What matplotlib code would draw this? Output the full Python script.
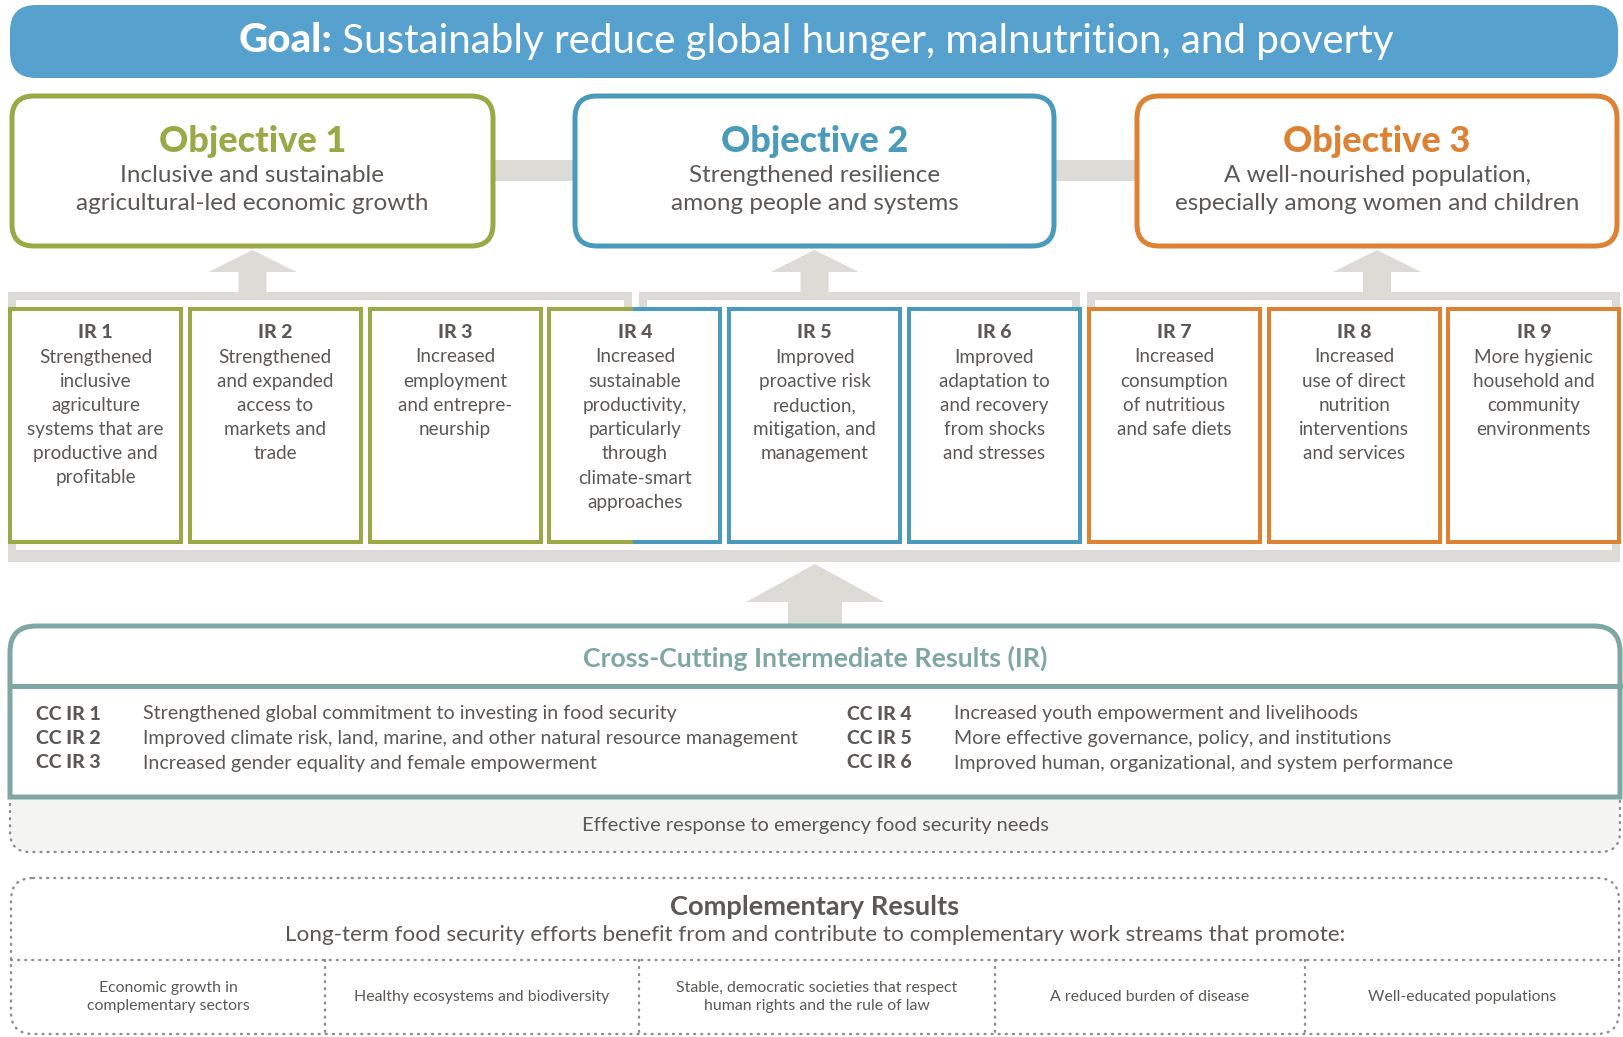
import matplotlib
matplotlib.use("Agg")
import matplotlib.pyplot as plt
from matplotlib.patches import FancyBboxPatch, Rectangle, Polygon, PathPatch
from matplotlib.path import Path

plt.rcParams['font.family'] = ['Lato', 'DejaVu Sans']

# Text content
goal_bold = "Goal:"
goal_text = " Sustainably reduce global hunger, malnutrition, and poverty"

objective_titles = ["Objective 1", "Objective 2", "Objective 3"]
objective_texts = [
    ["Inclusive and sustainable", "agricultural-led economic growth"],
    ["Strengthened resilience", "among people and systems"],
    ["A well-nourished population,", "especially among women and children"],
]

ir_titles = ["IR 1", "IR 2", "IR 3", "IR 4", "IR 5", "IR 6", "IR 7", "IR 8", "IR 9"]
ir_texts = [
    ["Strengthened", "inclusive", "agriculture", "systems that are", "productive and", "profitable"],
    ["Strengthened", "and expanded", "access to", "markets and", "trade"],
    ["Increased", "employment", "and entrepre-", "neurship"],
    ["Increased", "sustainable", "productivity,", "particularly", "through", "climate-smart", "approaches"],
    ["Improved", "proactive risk", "reduction,", "mitigation, and", "management"],
    ["Improved", "adaptation to", "and recovery", "from shocks", "and stresses"],
    ["Increased", "consumption", "of nutritious", "and safe diets"],
    ["Increased", "use of direct", "nutrition", "interventions", "and services"],
    ["More hygienic", "household and", "community", "environments"],
]
# which objective each IR box belongs to (IR 4 is shared by 1 and 2)
ir_groups = [0, 0, 0, (0, 1), 1, 1, 2, 2, 2]

cc_title = "Cross-Cutting Intermediate Results (IR)"
cc_labels = ["CC IR 1", "CC IR 2", "CC IR 3", "CC IR 4", "CC IR 5", "CC IR 6"]
cc_texts = [
    "Strengthened global commitment to investing in food security",
    "Improved climate risk, land, marine, and other natural resource management",
    "Increased gender equality and female empowerment",
    "Increased youth empowerment and livelihoods",
    "More effective governance, policy, and institutions",
    "Improved human, organizational, and system performance",
]
emergency_text = "Effective response to emergency food security needs"

comp_title = "Complementary Results"
comp_sub = "Long-term food security efforts benefit from and contribute to complementary work streams that promote:"
comp_items = [
    "Economic growth in\ncomplementary sectors",
    "Healthy ecosystems and biodiversity",
    "Stable, democratic societies that respect\nhuman rights and the rule of law",
    "A reduced burden of disease",
    "Well-educated populations",
]

# colours
GOAL_BLUE = '#57A1CF'
OBJ_COLORS = ['#9AA946', '#4A9BBB', '#DD8233']
GREY = '#DCDBD5'
TEAL = '#7EA7A4'
TXT = '#5B5855'
LIGHT = '#F4F5F2'
DOTS = '#8C8C8C'

W, H = 1623, 1037
fig = plt.figure(figsize=(W / 100, H / 100), dpi=100)
ax = fig.add_axes([0, 0, 1, 1])
ax.set_xlim(0, W)
ax.set_ylim(H, 0)
ax.axis('off')


def rbox(x0, y0, x1, y1, r, **kw):
    p = FancyBboxPatch((x0 + r, y0 + r), x1 - x0 - 2 * r, y1 - y0 - 2 * r,
                       boxstyle=f"round,pad={r},rounding_size={r}", **kw)
    ax.add_patch(p)
    return p


def rect(x0, y0, x1, y1, color):
    ax.add_patch(Rectangle((x0, y0), x1 - x0, y1 - y0, facecolor=color, edgecolor='none'))


def up_arrow(cx, apex, base, bottom, head_half, stem_half):
    ax.add_patch(Polygon([(cx, apex), (cx + head_half, base), (cx + stem_half, base),
                          (cx + stem_half, bottom), (cx - stem_half, bottom),
                          (cx - stem_half, base), (cx - head_half, base)],
                         closed=True, facecolor=GREY, edgecolor='none'))


# ---- goal bar
rbox(10, 5, 1618, 78, 26, facecolor=GOAL_BLUE, edgecolor='none')
r = fig.canvas.get_renderer()
t1 = ax.text(0, 41, goal_bold, fontsize=29, fontweight='black', color='white', va='center')
t2 = ax.text(0, 41, goal_text, fontsize=29, color='white', va='center')
w1 = t1.get_window_extent(r).width
w2 = t2.get_window_extent(r).width
x_start = 816 - (w1 + w2) / 2
t1.set_x(x_start)
t2.set_x(x_start + w1)

# ---- objectives
obj_x = [(12, 493), (575, 1054), (1137, 1617)]
rect(493, 160, 575, 181, GREY)
rect(1054, 160, 1137, 181, GREY)
for i, (x0, x1) in enumerate(obj_x):
    rbox(x0, 96, x1, 246, 22, facecolor='white', edgecolor=OBJ_COLORS[i], linewidth=3.6)
    cx = (x0 + x1) / 2
    ax.text(cx, 142, objective_titles[i], fontsize=26, fontweight='black',
            color=OBJ_COLORS[i], ha='center', va='center')
    for j, line in enumerate(objective_texts[i]):
        ax.text(cx, 175 + j * 29, line, fontsize=17.5, color=TXT, ha='center', va='center')
    up_arrow(cx, 250, 272, 294, 44, 14)

# ---- brackets
rect(8, 292, 632, 300, GREY)
rect(624, 292, 632, 309, GREY)
rect(639, 292, 1080, 300, GREY)
rect(639, 292, 647, 309, GREY)
rect(1072, 292, 1080, 309, GREY)
rect(1087, 292, 1620, 300, GREY)
rect(1087, 292, 1095, 309, GREY)
rect(8, 292, 16, 562, GREY)
rect(1612, 292, 1620, 562, GREY)
rect(8, 550, 1620, 562, GREY)

# ---- IR boxes
box_w = 171
pitch = 179.8
top, bot = 309, 542
for i in range(9):
    x0 = 10 + i * pitch
    x1 = x0 + box_w
    g = ir_groups[i]
    if isinstance(g, tuple):
        ca, cb = OBJ_COLORS[g[0]], OBJ_COLORS[g[1]]
        xm = (x0 + x1) / 2
        ax.add_patch(Rectangle((x0, top), box_w, bot - top, facecolor='white', edgecolor='none'))
        ax.plot([xm, x0, x0, xm], [top, top, bot, bot], color=ca, lw=2.9, solid_joinstyle='miter')
        ax.plot([xm, x1, x1, xm], [top, top, bot, bot], color=cb, lw=2.9, solid_joinstyle='miter')
    else:
        ax.add_patch(Rectangle((x0, top), box_w, bot - top, facecolor='white',
                               edgecolor=OBJ_COLORS[g], linewidth=2.9, joinstyle='miter'))
    cx = (x0 + x1) / 2
    ax.text(cx, 332, ir_titles[i], fontsize=14, fontweight='black', color=TXT, ha='center', va='center')
    for j, line in enumerate(ir_texts[i]):
        ax.text(cx, 357 + j * 24.2, line, fontsize=13.6, color=TXT, ha='center', va='center')

# big arrow
up_arrow(815, 564, 602, 628, 69, 27)

# ---- emergency strip (dotted, light fill)
ex0, ey0, ex1, ey1, er = 10, 797, 1620, 852, 20
verts = [(ex0, ey0), (ex0, ey1 - er), (ex0, ey1), (ex0 + er, ey1), (ex1 - er, ey1),
         (ex1, ey1), (ex1, ey1 - er), (ex1, ey0)]
codes = [Path.MOVETO, Path.LINETO, Path.CURVE3, Path.CURVE3, Path.LINETO,
         Path.CURVE3, Path.CURVE3, Path.LINETO]
ax.add_patch(PathPatch(Path(verts + [(ex0, ey0)], codes + [Path.CLOSEPOLY]),
                       facecolor=LIGHT, edgecolor='none'))
ax.add_patch(PathPatch(Path(verts, codes), facecolor='none', edgecolor=DOTS,
                       linewidth=1.7, linestyle=(0, (0.4, 2.6)), capstyle='round'))
ax.text(815, 825, emergency_text, fontsize=14.4, color=TXT, ha='center', va='center')

# ---- cross-cutting box (rounded top only)
cx0, cy0, cx1, cy1, cr = 10, 626, 1620, 797, 26
verts = [(cx0, cy1), (cx0, cy0 + cr), (cx0, cy0), (cx0 + cr, cy0), (cx1 - cr, cy0),
         (cx1, cy0), (cx1, cy0 + cr), (cx1, cy1), (cx0, cy1)]
codes = [Path.MOVETO, Path.LINETO, Path.CURVE3, Path.CURVE3, Path.LINETO,
         Path.CURVE3, Path.CURVE3, Path.LINETO, Path.CLOSEPOLY]
ax.add_patch(PathPatch(Path(verts, codes), facecolor='white', edgecolor=TEAL,
                       linewidth=3.6, joinstyle='miter'))
ax.plot([cx0, cx1], [686, 686], color=TEAL, lw=3.6)
ax.text(815, 658, cc_title, fontsize=19.3, fontweight='bold', color=TEAL, ha='center', va='center')
for k in range(6):
    col = k // 3
    row = k % 3
    lx = [36, 847][col]
    tx = [143, 954][col]
    y = 714 + row * 24.5
    ax.text(lx, y, cc_labels[k], fontsize=14, fontweight='black', color=TXT, va='center')
    ax.text(tx, y, cc_texts[k], fontsize=14.1, color=TXT, va='center')

# ---- complementary results
dot = dict(edgecolor=DOTS, linewidth=1.7, linestyle=(0, (0.4, 2.6)), capstyle='round')
rbox(11, 878, 1619, 1034, 22, facecolor='none', **dot)
ax.text(815, 907, comp_title, fontsize=19.6, fontweight='bold', color=TXT, ha='center', va='center')
ax.text(815, 935, comp_sub, fontsize=16.2, color=TXT, ha='center', va='center')
ax.plot([11, 1619], [960, 960], color=DOTS, lw=1.7, ls=(0, (0.4, 2.6)), dash_capstyle='round')
dividers = [11, 325, 639, 995, 1305, 1619]
for d in dividers[1:-1]:
    ax.plot([d, d], [960, 1034], color=DOTS, lw=1.7, ls=(0, (0.4, 2.6)), dash_capstyle='round')
for k, item in enumerate(comp_items):
    cxm = (dividers[k] + dividers[k + 1]) / 2
    ax.text(cxm, 997, item, fontsize=11.4, color=TXT, ha='center', va='center', linespacing=1.3)

fig.savefig('out.png', dpi=100, facecolor='white')
